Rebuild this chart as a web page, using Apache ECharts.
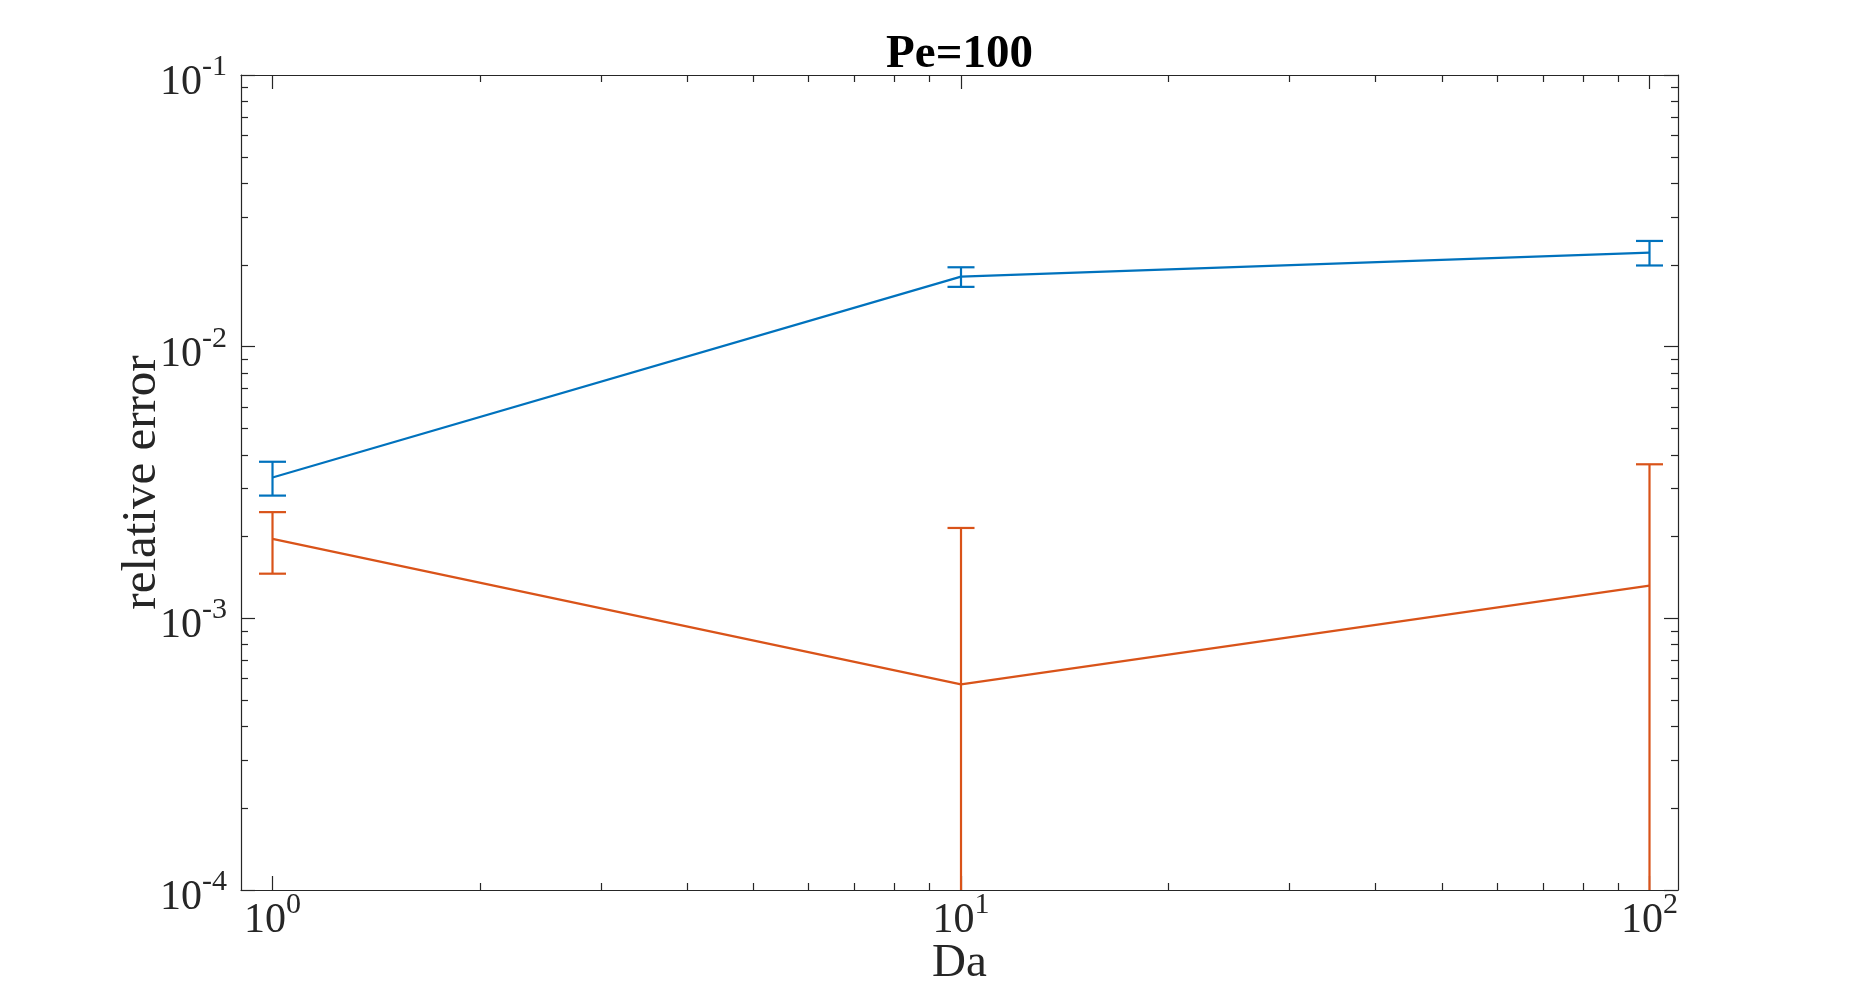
<!DOCTYPE html>
<html><head><meta charset="utf-8">
<script src="https://cdn.jsdelivr.net/npm/echarts@6/dist/echarts.min.js"></script>
<style>html,body{margin:0;padding:0;background:#fff}#c{width:1855px;height:1001px}</style>
</head><body><div id="c"></div>
<script>
// ---- data ----
const da = [1, 10, 100];
const blueMean = [0.0033, 0.0181, 0.0222];
const blueErr = [0.00047, 0.0015, 0.0023];
const orangeMean = [0.00196, 0.000571, 0.00132];
const orangeErr = [0.0005, 0.00158, 0.00237];
const xTickValues = [1, 10, 100];
const yTickValues = [1e-4, 1e-3, 1e-2, 1e-1];
const xMinorTicks = [2, 3, 4, 5, 6, 7, 8, 9, 20, 30, 40, 50, 60, 70, 80, 90];
const yMinorTicks = [2e-4, 3e-4, 4e-4, 5e-4, 6e-4, 7e-4, 8e-4, 9e-4,
                     2e-3, 3e-3, 4e-3, 5e-3, 6e-3, 7e-3, 8e-3, 9e-3,
                     2e-2, 3e-2, 4e-2, 5e-2, 6e-2, 7e-2, 8e-2, 9e-2];
const xRange = [0.9, 110];
const yRange = [1e-4, 1e-1];
const titleText = 'Pe=100';
const xName = 'Da';
const yName = 'relative error';

// ---- style ----
const AX = '#262626';
const BLUE = '#0072BD';
const ORANGE = '#D95319';
const FONT = 'Liberation Serif';
const rich = {
  b: { fontFamily: FONT, fontSize: 42, color: AX, lineHeight: 30, padding: [16, 0, 0, 0] },
  s: { fontFamily: FONT, fontSize: 30, color: AX, lineHeight: 30, padding: [0, 0, 16, 0] }
};
function powLabel(v) {
  const e = Math.round(Math.log10(v));
  return '{b|10}{s|' + e + '}';
}

function axisBase(range) {
  return {
    type: 'log', logBase: 10, min: range[0], max: range[1],
    splitLine: { show: false }, minorTick: { show: false }, minorSplitLine: { show: false },
    axisPointer: { show: false }, nameMoveOverlap: false
  };
}
function majorAxis(range, position, ticks, withLabels, extra) {
  return Object.assign(axisBase(range), {
    position: position,
    axisLine: { show: true, onZero: false, lineStyle: { color: AX, width: 1.2 } },
    axisTick: { show: true, inside: true, length: 14, customValues: ticks, lineStyle: { color: AX, width: 1.2 } },
    axisLabel: withLabels ? { show: true, customValues: ticks, formatter: powLabel, rich: rich } : { show: false }
  }, extra || {});
}
function minorAxis(range, position, ticks) {
  return Object.assign(axisBase(range), {
    position: position,
    axisLine: { show: false, onZero: false },
    axisTick: { show: true, inside: true, length: 7, customValues: ticks, lineStyle: { color: AX, width: 1.2 } },
    axisLabel: { show: false }
  });
}

const chart = echarts.init(document.getElementById('c'), null, { renderer: 'canvas' });

function errRender(color) {
  return function (params, api) {
    const x = api.value(0), m = api.value(1), e = api.value(2);
    const hi = api.coord([x, m + e]);
    const cs = params.coordSys;
    const bottom = cs.y + cs.height;
    const hasLo = (m - e) > 0;
    const lo = hasLo ? api.coord([x, m - e]) : [hi[0], bottom];
    const cap = 13.5;
    const style = { stroke: color, lineWidth: 2.2, fill: null };
    const children = [
      { type: 'line', shape: { x1: hi[0], y1: hi[1], x2: lo[0], y2: lo[1] }, style: style },
      { type: 'line', shape: { x1: hi[0] - cap, y1: hi[1], x2: hi[0] + cap, y2: hi[1] }, style: style }
    ];
    if (hasLo) children.push({ type: 'line', shape: { x1: lo[0] - cap, y1: lo[1], x2: lo[0] + cap, y2: lo[1] }, style: style });
    return { type: 'group', children: children };
  };
}

const option = {
  animation: false,
  backgroundColor: '#fff',
  grid: { left: 241, top: 75, width: 1437, height: 815, containLabel: false, outerBoundsMode: 'none' },
  xAxis: [
    majorAxis(xRange, 'bottom', xTickValues, true, {
      name: xName, nameLocation: 'middle', nameGap: 50,
      nameTextStyle: { fontFamily: FONT, fontSize: 47, color: AX },
      axisLabel: { show: true, margin: 8, customValues: xTickValues, formatter: powLabel, rich: rich }
    }),
    majorAxis(xRange, 'top', xTickValues, false, {
      name: titleText, nameLocation: 'middle', nameGap: -3,
      nameTextStyle: { fontFamily: FONT, fontSize: 47, fontWeight: 'bold', color: '#000' }
    }),
    minorAxis(xRange, 'bottom', xMinorTicks),
    minorAxis(xRange, 'top', xMinorTicks)
  ],
  yAxis: [
    majorAxis(yRange, 'left', yTickValues, true, {
      name: yName, nameLocation: 'middle', nameGap: 74,
      nameTextStyle: { fontFamily: FONT, fontSize: 49, color: AX },
      axisLabel: { show: true, margin: 14, customValues: yTickValues, formatter: powLabel, rich: rich }
    }),
    majorAxis(yRange, 'right', yTickValues, false),
    minorAxis(yRange, 'left', yMinorTicks),
    minorAxis(yRange, 'right', yMinorTicks)
  ],
  series: [
    {
      type: 'line', name: 'blue', xAxisIndex: 0, yAxisIndex: 0,
      data: da.map((x, i) => [x, blueMean[i]]),
      symbol: 'none', lineStyle: { color: BLUE, width: 2.2 }, itemStyle: { color: BLUE }, z: 3
    },
    {
      type: 'line', name: 'orange', xAxisIndex: 0, yAxisIndex: 0,
      data: da.map((x, i) => [x, orangeMean[i]]),
      symbol: 'none', lineStyle: { color: ORANGE, width: 2.2 }, itemStyle: { color: ORANGE }, z: 3
    },
    {
      type: 'custom', xAxisIndex: 0, yAxisIndex: 0, encode: { x: 0, y: 1 },
      data: da.map((x, i) => [x, blueMean[i], blueErr[i]]),
      renderItem: errRender(BLUE), z: 4
    },
    {
      type: 'custom', xAxisIndex: 0, yAxisIndex: 0, encode: { x: 0, y: 1 },
      data: da.map((x, i) => [x, orangeMean[i], orangeErr[i]]),
      renderItem: errRender(ORANGE), z: 4
    }
  ]
};
chart.setOption(option);
</script>
</body></html>
